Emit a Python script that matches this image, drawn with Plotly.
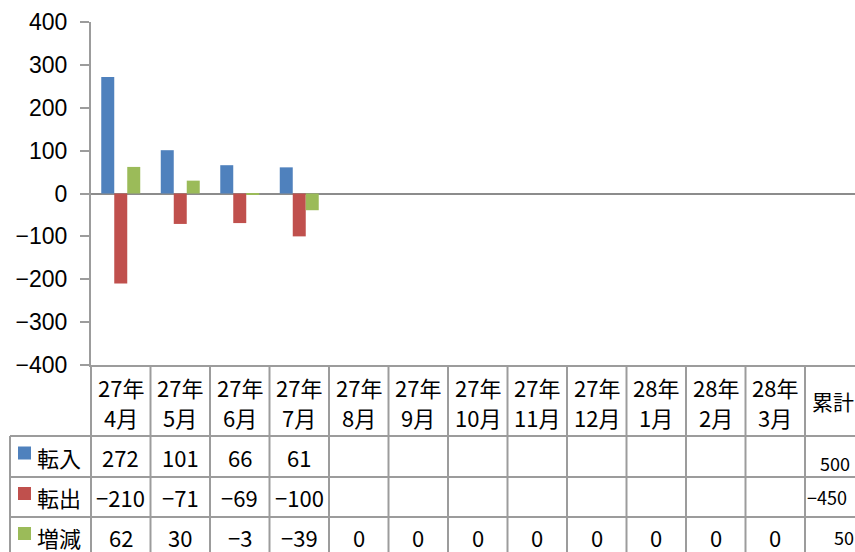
import plotly.graph_objects as go

# ---- data -------------------------------------------------------------
years = ["27年"] * 9 + ["28年"] * 3
months = ["4月", "5月", "6月", "7月", "8月", "9月", "10月", "11月", "12月",
          "1月", "2月", "3月"]
total_label = "累計"
series_names = ["転入", "転出", "増減"]
inflow = [272, 101, 66, 61, None, None, None, None, None, None, None, None]
outflow = [-210, -71, -69, -100, None, None, None, None, None, None, None, None]
net = [62, 30, -3, -39, 0, 0, 0, 0, 0, 0, 0, 0]
totals = [500, -450, 50]
colors = ["#4F81BD", "#C0504D", "#9BBB59"]

# ---- layout geometry (pixels) -----------------------------------------
W, H = 855, 552
L, T, B = 91, 22, 365          # plot area left / top / bottom
cat_w = 59.5                   # width of one category column
x_range = [-0.5, -0.5 + (W - L) / cat_w]
span = x_range[1] - x_range[0]

row_edges = [436, 477, 517, 557]
legend_left = 10
grid_color = "#9c9c9c"
table_font = "Noto Sans CJK JP"
tsize = 22


def px_x(px):
    return (px - L) / (W - L)


def px_y(py):
    return (B - py) / (B - T)


def col_x(pos):
    """paper x of a category position on the x axis"""
    return (pos - x_range[0]) / span


fig = go.Figure()
idx = list(range(len(months)))
for name, vals, col in zip(series_names, [inflow, outflow, net], colors):
    fig.add_trace(go.Bar(x=idx, y=vals, name=name, marker_color=col,
                         marker_line_width=0, showlegend=False))

shapes = []
annotations = []

# table grid: horizontal rules
for y in row_edges[:-1]:
    shapes.append(dict(type="line", xref="paper", yref="paper",
                       x0=px_x(legend_left), x1=px_x(W + 20),
                       y0=px_y(y), y1=px_y(y),
                       line=dict(color=grid_color, width=2)))
# vertical rules between categories
n_cols = len(months) + 1
for k in range(n_cols + 1):
    xp = col_x(k - 0.5)
    shapes.append(dict(type="line", xref="paper", yref="paper",
                       x0=xp, x1=xp, y0=px_y(B), y1=px_y(row_edges[-1]),
                       line=dict(color=grid_color, width=2)))
# legend column left border
shapes.append(dict(type="line", xref="paper", yref="paper",
                   x0=px_x(legend_left), x1=px_x(legend_left),
                   y0=px_y(row_edges[0]), y1=px_y(row_edges[-1]),
                   line=dict(color=grid_color, width=2)))


def label(x, y, text, size=tsize, anchor="center"):
    annotations.append(dict(x=x, y=y, xref="paper", yref="paper", text=text,
                            showarrow=False, xanchor=anchor, yanchor="middle",
                            font=dict(family=table_font, size=size, color="black")))


# header labels
for i, (yr, mo) in enumerate(zip(years, months)):
    label(col_x(i), px_y(387), yr)
    label(col_x(i), px_y(417), mo)
label(px_x(810), px_y(401), total_label, size=21, anchor="left")


def fmt(v):
    return str(v).replace("-", "\u2212")


# value rows with legend keys
for r, (name, vals, col) in enumerate(zip(series_names, [inflow, outflow, net], colors)):
    yc = (row_edges[r] + row_edges[r + 1]) / 2
    for i, v in enumerate(vals):
        if v is not None:
            label(col_x(i), px_y(yc), fmt(v))
    shapes.append(dict(type="rect", xref="paper", yref="paper",
                       x0=px_x(18), x1=px_x(31), y0=px_y(yc - 10), y1=px_y(yc + 3),
                       fillcolor=col, line=dict(width=0)))
    label(px_x(35), px_y(yc), name, anchor="left")

# cumulative column
tot_pos = [(818, 463), (805, 497), (832, 537)]
for v, (xp, yp) in zip(totals, tot_pos):
    label(px_x(xp), px_y(yp), fmt(v), size=18, anchor="left")

fig.update_layout(
    width=W, height=H, autosize=False,
    margin=dict(l=L, r=0, t=T, b=H - B, pad=0),
    plot_bgcolor="white", paper_bgcolor="white",
    barmode="group", bargap=0.345, bargroupgap=0,
    shapes=shapes, annotations=annotations,
    xaxis=dict(range=x_range, showticklabels=False, showgrid=False,
               zeroline=False, showline=True, linecolor=grid_color,
               linewidth=2, ticks="", automargin=False, fixedrange=True),
    yaxis=dict(range=[-400, 400], dtick=100, tick0=0, ticks="outside",
               ticklen=9, tickwidth=2, tickcolor=grid_color,
               showgrid=False, zeroline=True, zerolinecolor="#8c8c8c",
               zerolinewidth=1.5, showline=True, linecolor=grid_color,
               linewidth=2, automargin=False, ticklabelstandoff=8,
               tickfont=dict(family="Liberation Sans", size=23, color="black")),
)

fig.write_html("out.html")
